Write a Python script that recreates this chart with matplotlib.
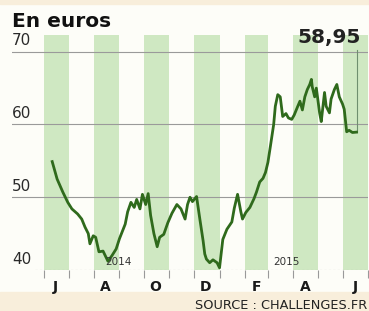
import pandas as pd
import matplotlib.pyplot as plt
import matplotlib.transforms as mtransforms

# Cours de l'action, en euros
dates = ['2014-06-11', '2014-06-17', '2014-06-24', '2014-06-30', '2014-07-05', '2014-07-12',
         '2014-07-17', '2014-07-21', '2014-07-25', '2014-07-27', '2014-07-31', '2014-08-03',
         '2014-08-07', '2014-08-12', '2014-08-18', '2014-08-23', '2014-08-28', '2014-09-01',
         '2014-09-08', '2014-09-11', '2014-09-15', '2014-09-19', '2014-09-22', '2014-09-26',
         '2014-09-29', '2014-10-03', '2014-10-06', '2014-10-09', '2014-10-13', '2014-10-17',
         '2014-10-20', '2014-10-25', '2014-10-30', '2014-11-04', '2014-11-10', '2014-11-15',
         '2014-11-20', '2014-11-23', '2014-11-26', '2014-11-29', '2014-12-04', '2014-12-08',
         '2014-12-12', '2014-12-14', '2014-12-16', '2014-12-20', '2014-12-24', '2014-12-29',
         '2015-01-01', '2015-01-05', '2015-01-10', '2015-01-16', '2015-01-19', '2015-01-23',
         '2015-01-27', '2015-01-29', '2015-02-02', '2015-02-07', '2015-02-12', '2015-02-15',
         '2015-02-19', '2015-02-23', '2015-02-26', '2015-03-01', '2015-03-04', '2015-03-08',
         '2015-03-10', '2015-03-13', '2015-03-16', '2015-03-19', '2015-03-23', '2015-03-26',
         '2015-03-30', '2015-04-02', '2015-04-06', '2015-04-09', '2015-04-12', '2015-04-15',
         '2015-04-18', '2015-04-21', '2015-04-23', '2015-04-24', '2015-04-27', '2015-04-29',
         '2015-05-03', '2015-05-05', '2015-05-09', '2015-05-11', '2015-05-15', '2015-05-17',
         '2015-05-21', '2015-05-24', '2015-05-27', '2015-05-31', '2015-06-02', '2015-06-05',
         '2015-06-08', '2015-06-12', '2015-06-17']
cours = [54.9, 52.5, 50.7, 49.3, 48.4, 47.7,
         47.0, 45.9, 45.0, 43.6, 44.7, 44.5,
         42.5, 42.6, 41.2, 42.0, 42.9, 44.3,
         46.3, 48.0, 49.3, 48.6, 49.7, 48.4,
         50.4, 49.0, 50.5, 47.5, 45.0, 43.2,
         44.5, 44.9, 46.5, 47.8, 49.0, 48.4,
         47.0, 49.0, 50.0, 49.4, 50.1, 47.0,
         44.0, 42.2, 41.5, 41.0, 41.4, 41.0,
         40.3, 44.2, 45.6, 46.6, 48.5, 50.4,
         48.0, 47.0, 47.9, 48.6, 49.8, 50.7,
         52.1, 52.6, 53.4, 54.8, 57.0, 60.0,
         62.5, 64.1, 63.8, 61.1, 61.5, 60.9,
         60.7, 61.3, 62.4, 63.2, 62.0, 63.8,
         64.8, 65.5, 66.2, 65.2, 63.8, 65.0,
         61.6, 60.4, 64.4, 62.5, 61.6, 63.5,
         64.8, 65.5, 63.8, 62.8, 62.1, 59.0,
         59.2, 58.9, 58.95]

mois_labels = ['J', 'A', 'O', 'D', 'F', 'A', 'J']
mois_verts = ['2014-06', '2014-08', '2014-10', '2014-12', '2015-02', '2015-04', '2015-06']
y_ticks = [40, 50, 60, 70]
dernier = '58,95'

dates = pd.to_datetime(dates)
vert = '#cfe8c2'
ligne = '#2f6a1c'
beige = '#f8eedb'

fig = plt.figure(figsize=(3.69, 3.11), dpi=100, facecolor='#fdfdf8')
# bandes beiges haut / bas
fig.patches.append(plt.Rectangle((0, 0), 1, 19 / 311, transform=fig.transFigure,
                                 color=beige, zorder=-5))
fig.patches.append(plt.Rectangle((0, 1 - 4 / 311), 1, 4 / 311, transform=fig.transFigure,
                                 color=beige, zorder=-5))

ax = fig.add_axes([12 / 369, 1 - 270 / 311, 356 / 369, 235 / 311], zorder=2)
ax.set_facecolor('none')
x0, x1 = pd.Timestamp('2014-04-23'), pd.Timestamp('2015-06-30')
ax.set_xlim(x0, x1)
ax.set_ylim(40, 72.3)

# bandes vertes un mois sur deux
for m in mois_verts:
    debut = pd.Timestamp(m + '-01')
    fin = debut + pd.offsets.MonthBegin(1)
    ax.axvspan(debut, fin, color=vert, lw=0, zorder=1)

# grille horizontale + étiquettes au-dessus
trans = mtransforms.blended_transform_factory(ax.transAxes, ax.transData)
for v in y_ticks:
    if v > 40:
        ax.axhline(v, color='#9a9a9a', lw=0.8, zorder=2)
    ax.text(0, v + 0.45, str(v), transform=trans, ha='left', va='bottom',
            fontsize=11, color='#2a2a2a', zorder=3)
ax.axhline(40, xmin=0.065, color='#aaaaaa', lw=0.8, ls=(0, (2, 2)), zorder=2)

# courbe
ax.plot(dates, cours, color=ligne, lw=2, zorder=4, solid_joinstyle='round')
ax.plot([dates[-1], dates[-1]], [cours[-1], 70.3], color='#6f8f6f', lw=0.8, zorder=3)
ax.text(dates[-1] + pd.Timedelta(days=5), 70.7, dernier, ha='right', va='bottom',
        fontsize=14.5, fontweight='bold', color='#222222', zorder=5)

# années
ax.text(pd.Timestamp('2014-08-31'), 40.4, '2014', ha='center', va='bottom',
        fontsize=7.5, color='#333333', zorder=5)
ax.text(pd.Timestamp('2015-03-24'), 40.4, '2015', ha='center', va='bottom',
        fontsize=7.5, color='#333333', zorder=5)

# axe des mois
bords = pd.date_range('2014-06-01', '2015-07-01', freq='MS')
centres = [pd.Timestamp(m + '-01') + pd.Timedelta(days=14) for m in mois_verts]
ax.set_xticks(bords, minor=True)
ax.set_xticks(centres)
ax.set_xticklabels(mois_labels, fontsize=10, fontweight='bold', color='#1a1a1a')
ax.tick_params(axis='x', which='major', length=0, pad=7)
ax.tick_params(axis='x', which='minor', length=6, color='#999999', width=0.8)
ax.set_yticks([])
for s in ax.spines.values():
    s.set_visible(False)

fig.text(12 / 369, 1 - 27 / 311, 'En euros', fontsize=14.5, fontweight='bold',
         color='#111111', ha='left', va='baseline')
fig.text(367 / 369, 1 - 309 / 311, 'SOURCE : CHALLENGES.FR', fontsize=9.3, color='#222222',
         ha='right', va='baseline')

fig.savefig('out.png', dpi=100, facecolor=fig.get_facecolor())
